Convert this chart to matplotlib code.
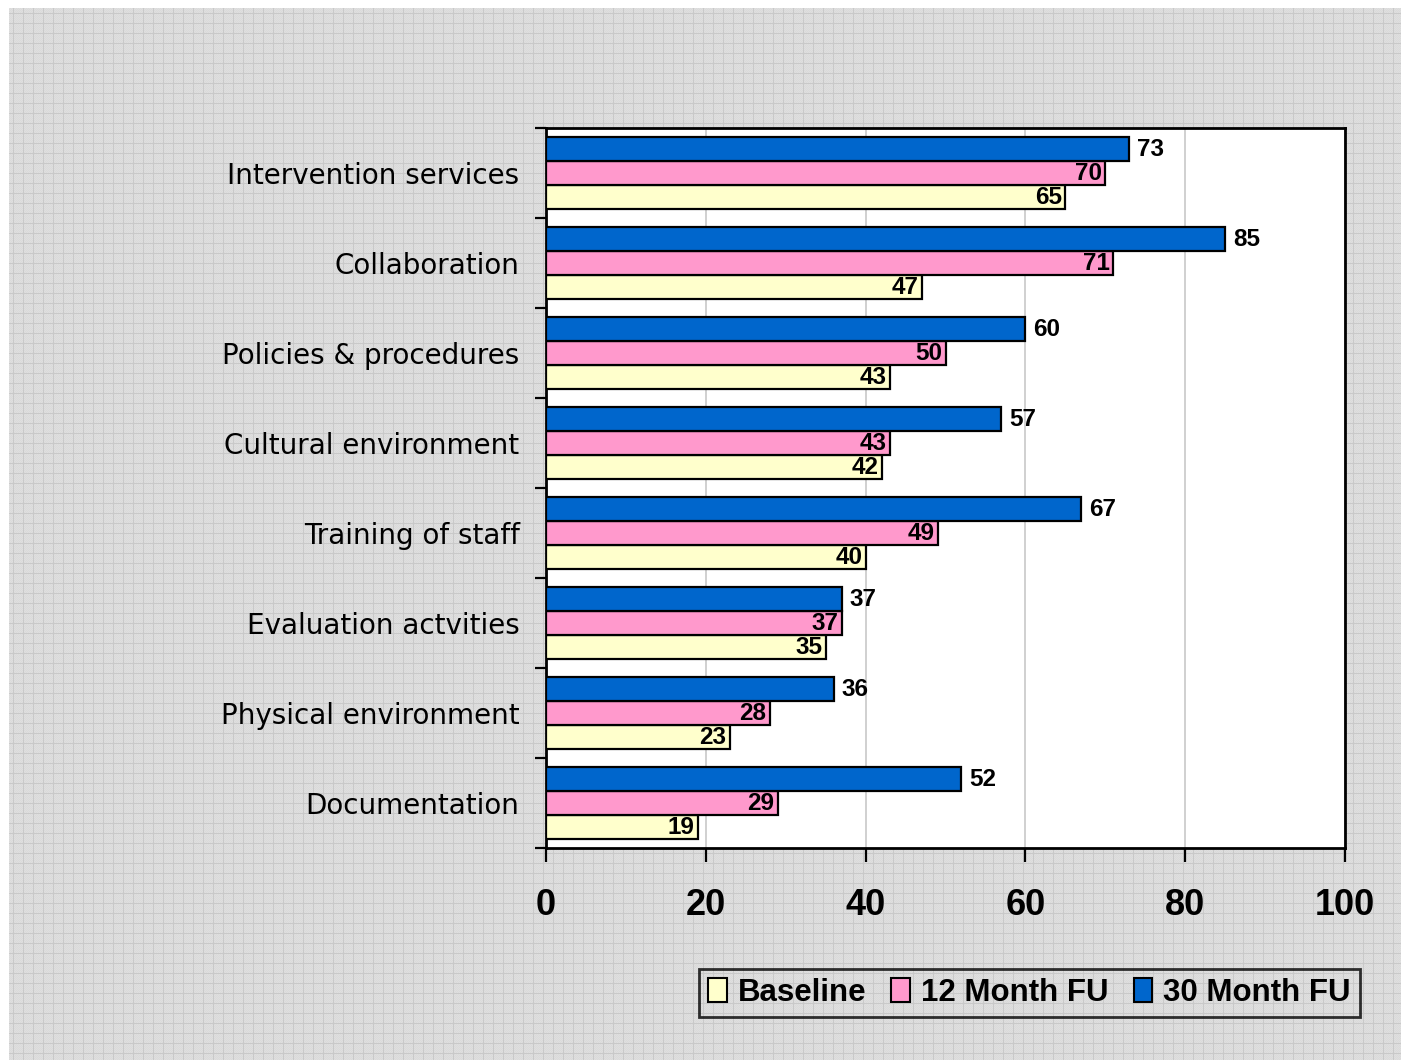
import numpy as np
import matplotlib
matplotlib.use("Agg")
import matplotlib.pyplot as plt
from matplotlib.patches import Patch
from matplotlib.ticker import FixedLocator

categories = [
    "Intervention services",
    "Collaboration",
    "Policies & procedures",
    "Cultural environment",
    "Training of staff",
    "Evaluation actvities",
    "Physical environment",
    "Documentation",
]
baseline = [65, 47, 43, 42, 40, 35, 23, 19]
month12 = [70, 71, 50, 43, 49, 37, 28, 29]
month30 = [73, 85, 60, 57, 67, 37, 36, 52]
series_names = ["Baseline", "12 Month FU", "30 Month FU"]
x_ticks = [0, 20, 40, 60, 80, 100]

colors = ["#FFFFCC", "#FF99CC", "#0066CC"]

W, H = 1401, 1060
fig = plt.figure(figsize=(W / 100, H / 100), dpi=100)

# textured gray backdrop with a fine grid
bg = np.full((H, W, 3), 0.875)
yy, xx = np.mgrid[0:H, 0:W]
checker = ((xx + yy) % 2 == 0)
bg[checker] = 0.855
bg[(xx % 10) == 3] = 0.79
bg[(yy % 10) == 3] = 0.79
bg[:8, :] = 1.0
bg[:, :9] = 1.0
fig.figimage(bg, xo=0, yo=0, origin="upper", zorder=-10)

ax = fig.add_axes([546 / W, 1 - 848 / H, (1345 - 546) / W, (848 - 128) / H])
ax.set_facecolor("white")

n = len(categories)
pos = np.arange(n)[::-1]  # first category at top
bh = 0.8 / 3
offsets = [-bh, 0, bh]  # baseline lowest, 30 month highest
data = [baseline, month12, month30]

for vals, off, col in zip(data, offsets, colors):
    ax.barh(pos + off, vals, height=bh, color=col, edgecolor="black",
            linewidth=1.6, zorder=3)

label_font = dict(family="Liberation Sans", weight="bold", fontsize=17.5)
for i in range(n):
    ax.text(baseline[i] - 0.4, pos[i] - bh, str(baseline[i]), ha="right",
            va="center", zorder=4, **label_font)
    ax.text(month12[i] - 0.4, pos[i], str(month12[i]), ha="right",
            va="center", zorder=4, **label_font)
    ax.text(month30[i] + 1.0, pos[i] + bh, str(month30[i]), ha="left",
            va="center", zorder=4, **label_font)

ax.set_xlim(0, 100)
ax.set_ylim(-0.5, n - 0.5)
ax.set_xticks(x_ticks)
ax.set_xticklabels([str(t) for t in x_ticks], family="Liberation Sans",
                   weight="bold", fontsize=26)
ax.tick_params(axis="x", direction="out", length=10, width=1.6, pad=19)
ax.xaxis.grid(True, color="#c8c8c8", linewidth=1.2, zorder=0)
ax.set_axisbelow(True)

ax.set_yticks(pos)
ax.set_yticklabels(categories, family="DejaVu Sans", fontsize=20)
ax.tick_params(axis="y", which="major", length=0, pad=19)
ax.yaxis.set_minor_locator(FixedLocator(np.arange(-0.5, n, 1.0)))
ax.tick_params(axis="y", which="minor", direction="out", length=8, width=1.6)

for s in ax.spines.values():
    s.set_color("black")
    s.set_linewidth(2)

handles = [Patch(facecolor=c, edgecolor="black", linewidth=1.5) for c in colors]
leg = fig.legend(handles, series_names, ncol=3, loc="center",
                 bbox_to_anchor=(1029.5 / W, 1 - 993 / H),
                 prop=dict(family="Liberation Sans", weight="bold", size=22.5),
                 frameon=True, fancybox=False, handlelength=0.6,
                 handleheight=0.8, handletextpad=0.35, columnspacing=0.8,
                 borderpad=0.3)
leg.get_frame().set_edgecolor("black")
leg.get_frame().set_linewidth(2)
leg.get_frame().set_facecolor("none")

fig.savefig("out.png", dpi=100)
